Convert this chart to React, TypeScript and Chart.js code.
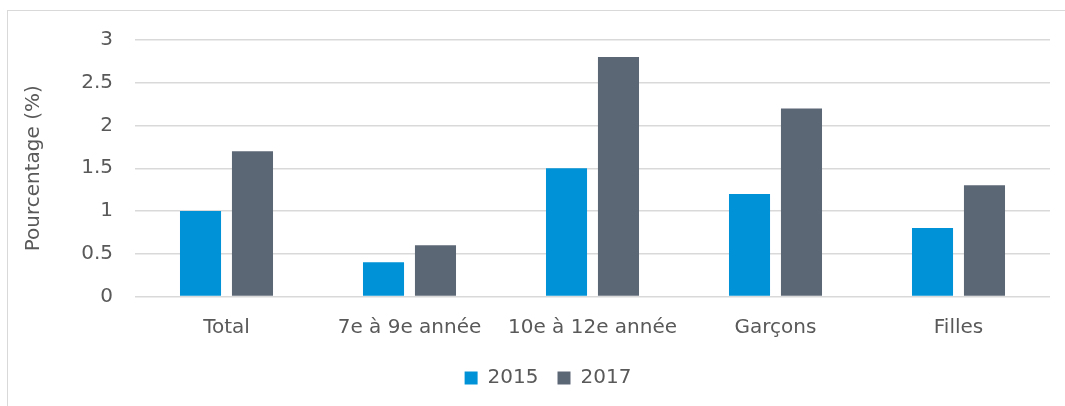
import React, { useEffect, useRef } from "react";
import { Chart, registerables } from "chart.js";

Chart.register(...registerables);

const categories = ["Total", "7e à 9e année", "10e à 12e année", "Garçons", "Filles"];
const seriesNames = ["2015", "2017"];
const values2015 = [1.0, 0.4, 1.5, 1.2, 0.8];
const values2017 = [1.7, 0.6, 2.8, 2.2, 1.3];
const yTickValues = [0, 0.5, 1, 1.5, 2, 2.5, 3];
const yTitle = "Pourcentage (%)";

const FONT = "'DejaVu Sans', 'Liberation Sans', sans-serif";
const TEXT = "#595959";
const GRID = "#d9d9d9";
const BLUE = "#0092D6";
const GRAY = "#5C6776";

export default function App() {
  const ref = useRef<HTMLCanvasElement | null>(null);

  useEffect(() => {
    if (!ref.current) return;
    const chart = new Chart(ref.current, {
      type: "bar",
      data: {
        labels: categories,
        datasets: [
          { label: seriesNames[0], data: values2015, backgroundColor: BLUE, borderWidth: 0 },
          { label: seriesNames[1], data: values2017, backgroundColor: GRAY, borderWidth: 0 },
        ],
      },
      options: {
        responsive: false,
        animation: false,
        devicePixelRatio: 1,
        categoryPercentage: 0.568,
        barPercentage: 0.79,
        layout: { padding: { left: 46, right: 15, top: 40, bottom: 8 } },
        plugins: {
          tooltip: { enabled: false },
          legend: {
            display: true,
            position: "bottom",
            labels: {
              boxWidth: 13,
              boxHeight: 13,
              padding: 19,
              color: TEXT,
              font: { family: FONT, size: 20 },
            },
          },
        },
        scales: {
          x: {
            grid: { display: false, drawTicks: false },
            border: { display: false },
            ticks: {
              color: TEXT,
              font: { family: FONT, size: 20 },
              padding: 19,
              maxRotation: 0,
              autoSkip: false,
            },
            afterFit: (s: any) => {
              s.height = 52.5;
            },
          },
          y: {
            min: 0,
            max: 3,
            grid: { color: GRID, lineWidth: 1.5, drawTicks: false },
            border: { display: false },
            ticks: {
              color: TEXT,
              font: { family: FONT, size: 20 },
              padding: 22,
              callback: (v: any) => String(v),
            },
            afterBuildTicks: (s: any) => {
              s.ticks = yTickValues.map((v) => ({ value: v }));
            },
            title: {
              display: true,
              text: yTitle,
              color: TEXT,
              font: { family: FONT, size: 20 },
              padding: { top: -24, bottom: 0 },
            },
            afterFit: (s: any) => {
              s.width = 89;
            },
          },
        },
      },
    });
    return () => chart.destroy();
  }, []);

  return (
    <div style={{ position: "fixed", left: 0, top: 0, width: 1065, height: 406, overflow: "hidden", background: "#fff" }}>
      <div
        style={{
          position: "absolute",
          left: 7,
          top: 10,
          width: 1200,
          height: 600,
          border: "1px solid #d9d9d9",
        }}
      />
      <canvas ref={ref} width={1065} height={406} style={{ position: "absolute", left: 0, top: 0 }} />
    </div>
  );
}
